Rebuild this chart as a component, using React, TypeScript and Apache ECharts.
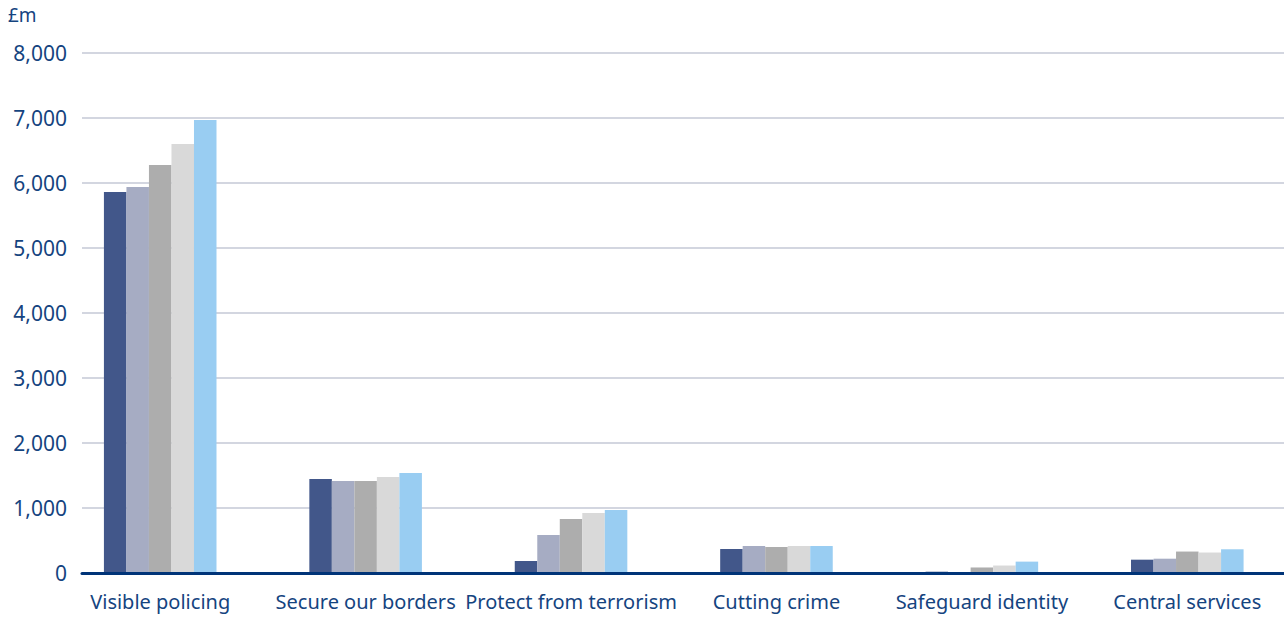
import React, { useEffect, useRef } from "react";
import * as echarts from "echarts";

const categories = [
  "Visible policing",
  "Secure our borders",
  "Protect from terrorism",
  "Cutting crime",
  "Safeguard identity",
  "Central services",
];
const series1 = [5862, 1446, 185, 369, 20, 205];
const series2 = [5938, 1415, 585, 415, 10, 220];
const series3 = [6277, 1415, 831, 400, 85, 330];
const series4 = [6600, 1477, 923, 415, 115, 315];
const series5 = [6969, 1538, 969, 415, 175, 365];
const seriesData = [series1, series2, series3, series4, series5];
const colors = ["#42578a", "#a6acc3", "#adadad", "#d9d9d9", "#99cdf2"];
const yTicks = { min: 0, max: 8000, interval: 1000 };

const textColor = "#15447f";
const fontFamily = "'Noto Sans', 'DejaVu Sans', sans-serif";

export default function App() {
  const ref = useRef<HTMLDivElement>(null);
  useEffect(() => {
    if (!ref.current) return;
    const chart = echarts.init(ref.current, undefined, { renderer: "svg" });
    chart.setOption({
      animation: false,
      graphic: [
        {
          type: "text",
          left: 8,
          top: 5,
          style: { text: "£m", fill: textColor, font: `19px ${fontFamily}` },
        },
      ],
      grid: [
        { left: 57.5, width: 1232.5, top: 53, bottom: 45, containLabel: false, outerBoundsMode: "none" },
        { left: 82, right: 0, top: 53, bottom: 45, containLabel: false },
      ],
      xAxis: [
        {
          type: "category",
          gridIndex: 0,
          data: categories,
          axisLine: { show: false },
          axisTick: { show: false },
          axisLabel: {
            color: textColor,
            fontSize: 20,
            fontFamily,
            margin: 18,
            interval: 0,
          },
        },
        {
          type: "category",
          gridIndex: 1,
          data: categories,
          axisLine: { lineStyle: { color: "#003478", width: 3 } },
          axisTick: { show: false },
          axisLabel: { show: false },
          z: 5,
        },
      ],
      yAxis: [
        {
          type: "value",
          gridIndex: 0,
          ...yTicks,
          show: false,
          splitLine: { show: false },
        },
        {
          type: "value",
          gridIndex: 1,
          ...yTicks,
          axisLine: { show: false },
          axisTick: { show: false },
          splitLine: { lineStyle: { color: "#c5c8d6", width: 1.5 } },
          axisLabel: {
            color: textColor,
            fontSize: 21,
            fontFamily,
            margin: 15,
            formatter: (v: number) => v.toLocaleString("en-GB"),
          },
        },
      ],
      series: seriesData.map((d, i) => ({
        type: "bar",
        xAxisIndex: 0,
        yAxisIndex: 0,
        data: d,
        barGap: "0%",
        barCategoryGap: "45.2%",
        itemStyle: { color: colors[i] },
      })),
    });
    return () => chart.dispose();
  }, []);
  return <div ref={ref} style={{ width: 1284, height: 618, position: "absolute", left: 0, top: 0 }} />;
}
